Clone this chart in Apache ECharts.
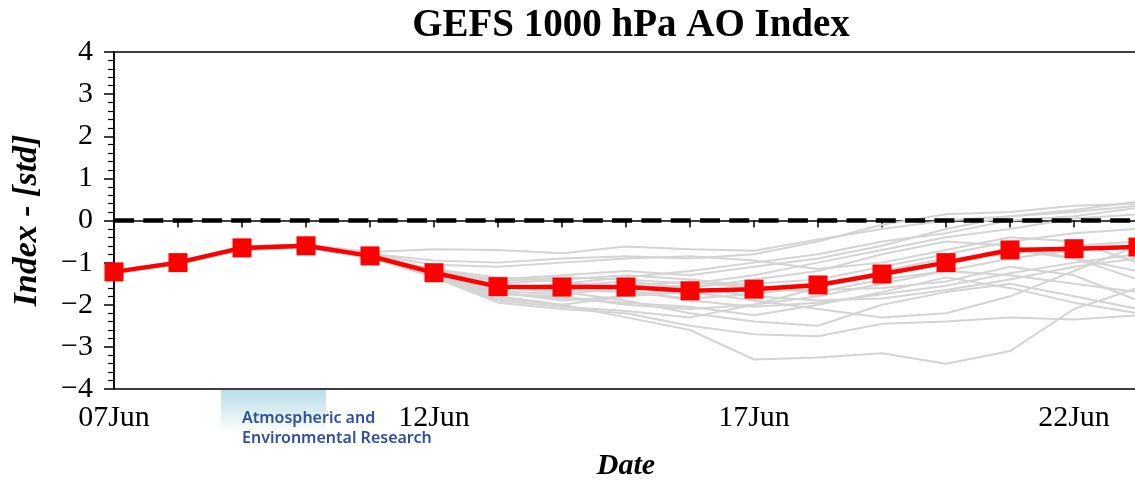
<!DOCTYPE html>
<html>
<head>
<meta charset="utf-8">
<script src="https://cdn.jsdelivr.net/npm/echarts@6/dist/echarts.min.js"></script>
<style>
html,body{margin:0;padding:0;background:#fff;}
#chart{width:1135px;height:480px;}
</style>
</head>
<body>
<div id="chart"></div>
<script>
const categories = ['07Jun','08Jun','09Jun','10Jun','11Jun','12Jun','13Jun','14Jun','15Jun','16Jun','17Jun','18Jun','19Jun','20Jun','21Jun','22Jun','23Jun'];
const ensembleMean = [-1.22,-1.0,-0.65,-0.6,-0.84,-1.24,-1.57,-1.58,-1.58,-1.67,-1.63,-1.53,-1.27,-1.0,-0.7,-0.67,-0.63];
const member01 = [-1.20,-0.97,-0.62,-0.57,-0.75,-0.68,-0.70,-0.78,-0.62,-0.68,-0.72,-0.45,-0.20,0.00,0.10,0.25,0.45];
const member02 = [-1.25,-1.02,-0.68,-0.62,-0.85,-1.30,-1.80,-2.00,-2.30,-2.60,-3.30,-3.25,-3.15,-3.40,-3.10,-2.10,-1.60];
const member03 = [-1.22,-1.00,-0.66,-0.60,-0.82,-1.20,-1.40,-1.30,-1.20,-1.30,-1.10,-0.90,-0.60,-0.20,0.10,0.20,0.35];
const member04 = [-1.24,-1.03,-0.69,-0.64,-0.88,-1.35,-1.95,-2.10,-2.20,-2.50,-2.70,-2.75,-2.45,-2.40,-2.30,-2.35,-2.25];
const member05 = [-1.21,-0.99,-0.64,-0.59,-0.80,-1.05,-1.10,-1.00,-0.90,-0.85,-0.95,-1.15,-1.00,-0.70,-0.40,-0.50,-1.00];
const member06 = [-1.23,-1.01,-0.67,-0.63,-0.86,-1.30,-1.70,-1.90,-1.80,-1.60,-1.40,-1.20,-0.80,-0.50,-0.60,-0.90,-1.20];
const member07 = [-1.22,-1.00,-0.65,-0.61,-0.83,-1.25,-1.60,-1.70,-1.90,-2.20,-2.40,-2.50,-2.00,-1.70,-1.50,-1.80,-2.10];
const member08 = [-1.20,-0.98,-0.63,-0.58,-0.80,-1.18,-1.45,-1.35,-1.40,-1.50,-1.30,-1.00,-0.70,-0.40,-0.20,0.05,0.15];
const member09 = [-1.25,-1.03,-0.70,-0.65,-0.88,-1.33,-1.85,-2.00,-1.80,-1.70,-1.90,-2.10,-2.30,-2.20,-1.80,-1.20,-0.60];
const member10 = [-1.21,-0.99,-0.65,-0.60,-0.82,-1.22,-1.55,-1.60,-1.55,-1.45,-1.60,-1.70,-1.40,-1.20,-0.90,-0.70,-0.65];
const member11 = [-1.23,-1.01,-0.66,-0.62,-0.84,-1.27,-1.65,-1.50,-1.35,-1.20,-1.00,-0.80,-0.50,-0.30,0.00,0.10,0.30];
const member12 = [-1.24,-1.02,-0.68,-0.63,-0.86,-1.30,-1.75,-1.80,-2.00,-2.10,-2.00,-1.80,-1.50,-1.20,-1.30,-1.50,-1.70];
const member13 = [-1.22,-1.00,-0.66,-0.61,-0.84,-1.24,-1.58,-1.65,-1.70,-1.85,-1.75,-1.55,-1.30,-1.00,-0.70,-0.90,-1.40];
const member14 = [-1.21,-0.98,-0.64,-0.59,-0.81,-1.16,-1.35,-1.45,-1.65,-1.90,-2.05,-1.95,-1.75,-1.55,-1.25,-1.00,-0.80];
const member15 = [-1.23,-1.01,-0.67,-0.62,-0.85,-1.28,-1.68,-1.75,-1.60,-1.55,-1.50,-1.40,-1.10,-0.80,-0.50,-0.30,-0.20];
const member16 = [-1.22,-1.00,-0.65,-0.60,-0.83,-1.23,-1.50,-1.40,-1.30,-1.40,-1.55,-1.65,-1.60,-1.45,-1.10,-1.30,-1.90];
const member17 = [-1.24,-1.02,-0.67,-0.63,-0.86,-1.32,-1.90,-2.05,-2.15,-2.30,-2.00,-1.60,-1.20,-0.90,-0.80,-0.60,-0.50];
const member18 = [-1.20,-0.97,-0.63,-0.57,-0.79,-0.95,-1.00,-0.90,-0.85,-0.90,-0.80,-0.50,-0.10,0.15,0.20,0.35,0.40];
const member19 = [-1.22,-1.00,-0.66,-0.61,-0.83,-1.26,-1.62,-1.55,-1.45,-1.60,-1.80,-1.90,-1.85,-1.65,-1.40,-1.10,-0.90];
const member20 = [-1.23,-1.01,-0.67,-0.62,-0.85,-1.29,-1.72,-1.85,-1.95,-2.05,-2.25,-2.00,-1.70,-1.35,-1.60,-1.95,-2.20];
const members = [member01,member02,member03,member04,member05,member06,member07,member08,member09,member10,
                 member11,member12,member13,member14,member15,member16,member17,member18,member19,member20];

const serif = 'Liberation Serif';
const chart = echarts.init(document.getElementById('chart'), null, {renderer:'canvas'});

const series = members.map((m, i) => ({
  type: 'line', name: 'm' + (i + 1), data: m, symbol: 'none', silent: true,
  lineStyle: {color: '#d4d4d4', width: 2}, z: 2, animation: false
}));
series.push({
  type: 'line', name: 'mean', data: ensembleMean, symbol: 'rect', symbolSize: 19,
  itemStyle: {color: '#ff0000'}, lineStyle: {color: '#ff0000', width: 4.5}, z: 5, animation: false,
  markLine: {
    silent: true, symbol: 'none', label: {show: false}, animation: false,
    lineStyle: {color: '#000', width: 4.5, type: [20, 9.3]},
    data: [{yAxis: 0}]
  }
});

chart.setOption({
  animation: false,
  backgroundColor: '#fff',
  title: {
    text: 'GEFS 1000 hPa AO Index', left: 626, textAlign: 'center', top: 1,
    textStyle: {fontFamily: serif, fontWeight: 'bold', fontSize: 39, color: '#000'}
  },
  grid: {left: 114, top: 52, width: 1024, height: 337, outerBoundsMode: 'none', containLabel: false,
    show: true, borderColor: '#000', borderWidth: 1.5, backgroundColor: 'transparent'},
  xAxis: {
    type: 'category', data: categories, boundaryGap: false,
    name: 'Date', nameLocation: 'middle', nameGap: 62,
    nameTextStyle: {fontFamily: serif, fontWeight: 'bold', fontStyle: 'italic', fontSize: 30, color: '#000'},
    axisLine: {lineStyle: {color: '#000', width: 1.5}},
    axisTick: {interval: 0, length: 7, lineStyle: {color: '#000', width: 1.5}},
    axisLabel: {interval: 4, margin: 14, fontFamily: serif, fontSize: 30, color: '#000'},
    splitLine: {show: false}
  },
  yAxis: {
    type: 'value', min: -4, max: 4, interval: 1,
    name: 'Index - [std]', nameLocation: 'middle', nameGap: 70, nameRotate: 90,
    nameTextStyle: {fontFamily: serif, fontWeight: 'bold', fontStyle: 'italic', fontSize: 34, color: '#000'},
    axisLine: {show: true, lineStyle: {color: '#000', width: 1.5}},
    axisTick: {show: true, length: 10, lineStyle: {color: '#000', width: 1.5}},
    minorTick: {show: true, splitNumber: 5, length: 6, lineStyle: {color: '#000', width: 1.2}},
    axisLabel: {margin: 21, fontFamily: serif, fontSize: 30, color: '#000',
      formatter: v => String(v).replace('-', '\u2212')},
    splitLine: {show: false}
  },
  graphic: [
    {type: 'rect', left: 221, top: 390, shape: {width: 105, height: 42}, silent: true, z: 0,
      style: {fill: new echarts.graphic.LinearGradient(0, 0, 0, 1, [
        {offset: 0, color: '#b8dfe8'}, {offset: 0.6, color: '#dff0f4'}, {offset: 1, color: '#ffffff'}])}},
    {type: 'text', left: 242, top: 410, silent: true, z: 1,
      style: {text: 'Atmospheric and', fontFamily: 'Noto Sans', fontSize: 16, fontWeight: 600, fill: '#2d4f9e'}},
    {type: 'text', left: 242, top: 430, silent: true, z: 1,
      style: {text: 'Environmental Research', fontFamily: 'Noto Sans', fontSize: 16, fontWeight: 600, fill: '#2d4f9e'}}
  ],
  series: series
});
</script>
</body>
</html>
